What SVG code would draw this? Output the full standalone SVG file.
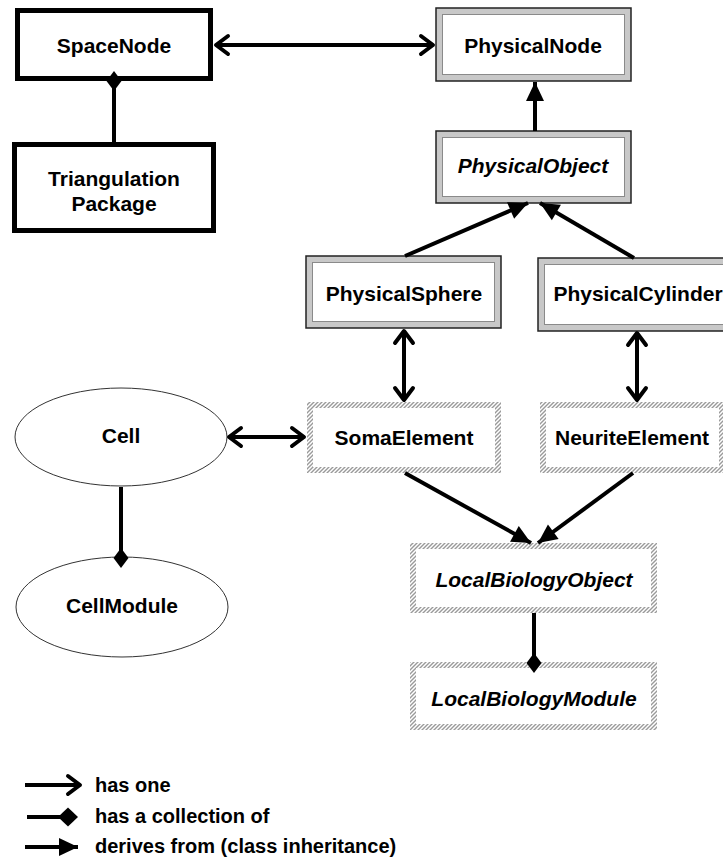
<svg xmlns="http://www.w3.org/2000/svg" width="723" height="859" viewBox="0 0 723 859">
  <defs>
    <style>
      text { font-family: "Liberation Sans", Arial, sans-serif; font-weight: bold; font-size: 21px; fill: #000; }
      .legend text { font-size: 20px; }
      .mid { text-anchor: middle; }
      .ital { font-style: italic; }
      .thick { fill: #fff; stroke: #000; stroke-width: 5; }
      .grayOuter { fill: #c8c8c8; stroke: #222; stroke-width: 1.5; }
      .grayInner { fill: #fff; stroke: #8a8a8a; stroke-width: 1; }
      .hatchOuter { fill: url(#hatch); }
      .hatchInner { fill: #fff; }
      .oval { fill: #fff; stroke: #333; stroke-width: 1; }
      .conn { fill: none; stroke: #000; stroke-width: 4; }
    </style>
    <pattern id="hatch" patternUnits="userSpaceOnUse" width="4" height="4">
      <rect width="4" height="4" fill="#fff"/>
      <path d="M-1,1 L1,-1 M0,4 L4,0 M3,5 L5,3" stroke="#9a9a9a" stroke-width="1.4"/>
    </pattern>
    <!-- open arrowhead: "has one" -->
    <marker id="open" markerUnits="userSpaceOnUse" viewBox="-16 -12 20 24" refX="0" refY="0" markerWidth="20" markerHeight="24" orient="auto-start-reverse" overflow="visible">
      <path d="M-12,-9 L0,0 L-12,9" fill="none" stroke="#000" stroke-width="4" stroke-linecap="round" stroke-linejoin="round"/>
    </marker>
    <!-- filled triangle: inheritance -->
    <marker id="tri" markerUnits="userSpaceOnUse" viewBox="-22 -11 24 22" refX="0" refY="0" markerWidth="24" markerHeight="22" orient="auto" overflow="visible">
      <path d="M-19,-9 L0,0 L-19,9 Z" fill="#000"/>
    </marker>
    <!-- diamond: collection -->
    <marker id="dia" markerUnits="userSpaceOnUse" viewBox="-12 -9 24 18" refX="0" refY="0" markerWidth="24" markerHeight="18" orient="auto" overflow="visible">
      <path d="M10,0 L0,-7.5 L-10,0 L0,7.5 Z" fill="#000"/>
    </marker>
  </defs>

  <rect width="723" height="859" fill="#fff"/>

  <!-- nodes -->
  <g id="SpaceNode">
    <rect class="thick" x="17.5" y="10.5" width="193" height="68"/>
    <text class="mid" x="114" y="53">SpaceNode</text>
  </g>
  <g id="TriangulationPackage">
    <rect class="thick" x="14.5" y="144.5" width="199" height="86"/>
    <text class="mid" x="114" y="186">Triangulation</text>
    <text class="mid" x="114" y="211">Package</text>
  </g>

  <g id="PhysicalNode">
    <rect class="grayOuter" x="436" y="8" width="195" height="73"/>
    <rect class="grayInner" x="442.5" y="14.5" width="182" height="60"/>
    <text class="mid" x="533" y="53">PhysicalNode</text>
  </g>
  <g id="PhysicalObject">
    <rect class="grayOuter" x="436" y="131" width="195" height="72"/>
    <rect class="grayInner" x="442.5" y="137.5" width="182" height="59"/>
    <text class="mid ital" x="533" y="173">PhysicalObject</text>
  </g>
  <g id="PhysicalSphere">
    <rect class="grayOuter" x="306" y="256" width="195" height="72"/>
    <rect class="grayInner" x="312.5" y="262.5" width="182" height="59"/>
    <text class="mid" x="404" y="301">PhysicalSphere</text>
  </g>
  <g id="PhysicalCylinder">
    <rect class="grayOuter" x="538" y="258" width="205" height="73"/>
    <rect class="grayInner" x="544.5" y="264.5" width="192" height="60"/>
    <text class="mid" x="638" y="301">PhysicalCylinder</text>
  </g>

  <g id="SomaElement">
    <rect class="hatchOuter" x="307" y="402" width="194" height="71"/>
    <rect class="hatchInner" x="313" y="408" width="182" height="59"/>
    <text class="mid" x="404" y="445">SomaElement</text>
  </g>
  <g id="NeuriteElement">
    <rect class="hatchOuter" x="540" y="402" width="185" height="71"/>
    <rect class="hatchInner" x="546" y="408" width="173" height="59"/>
    <text class="mid" x="632" y="445">NeuriteElement</text>
  </g>
  <g id="LocalBiologyObject">
    <rect class="hatchOuter" x="410" y="543" width="247" height="70"/>
    <rect class="hatchInner" x="416" y="549" width="235" height="58"/>
    <text class="mid ital" x="534" y="587">LocalBiologyObject</text>
  </g>
  <g id="LocalBiologyModule">
    <rect class="hatchOuter" x="410" y="662" width="247" height="68"/>
    <rect class="hatchInner" x="416" y="668" width="235" height="56"/>
    <text class="mid ital" x="534" y="706">LocalBiologyModule</text>
  </g>

  <g id="Cell">
    <ellipse class="oval" cx="121" cy="437" rx="106" ry="49"/>
    <text class="mid" x="121" y="443">Cell</text>
  </g>
  <g id="CellModule">
    <ellipse class="oval" cx="122" cy="607" rx="106" ry="50"/>
    <text class="mid" x="122" y="613">CellModule</text>
  </g>

  <!-- connectors, drawn over the node borders so the heads stay visible -->
  <g id="connectors">
    <line class="conn" x1="216" y1="45" x2="433" y2="45" marker-start="url(#open)" marker-end="url(#open)"/>
    <line class="conn" x1="114" y1="142" x2="114" y2="81" marker-end="url(#dia)"/>
    <line class="conn" x1="535" y1="131" x2="535" y2="82" marker-end="url(#tri)"/>
    <line class="conn" x1="405" y1="256" x2="528" y2="203" marker-end="url(#tri)"/>
    <line class="conn" x1="634" y1="258" x2="540" y2="203" marker-end="url(#tri)"/>
    <line class="conn" x1="404" y1="331" x2="404" y2="400" marker-start="url(#open)" marker-end="url(#open)"/>
    <line class="conn" x1="637" y1="333" x2="637" y2="400" marker-start="url(#open)" marker-end="url(#open)"/>
    <line class="conn" x1="229" y1="437" x2="304" y2="437" marker-start="url(#open)" marker-end="url(#open)"/>
    <line class="conn" x1="121" y1="487" x2="121" y2="558" marker-end="url(#dia)"/>
    <line class="conn" x1="405" y1="473" x2="531" y2="543" marker-end="url(#tri)"/>
    <line class="conn" x1="633" y1="473" x2="538" y2="543" marker-end="url(#tri)"/>
    <line class="conn" x1="534" y1="613" x2="534" y2="663" marker-end="url(#dia)"/>
  </g>

  <!-- legend -->
  <g id="legend" class="legend">
    <line class="conn" x1="25" y1="785" x2="80" y2="785" marker-end="url(#open)"/>
    <text x="95" y="792">has one</text>
    <line class="conn" x1="27" y1="817" x2="68" y2="817"/>
    <path d="M78,817 L68,807.5 L58,817 L68,826.5 Z" fill="#000"/>
    <text x="95" y="823">has a collection of</text>
    <line class="conn" x1="25" y1="847" x2="78" y2="847" marker-end="url(#tri)"/>
    <text x="95" y="853">derives from (class inheritance)</text>
  </g>
</svg>
